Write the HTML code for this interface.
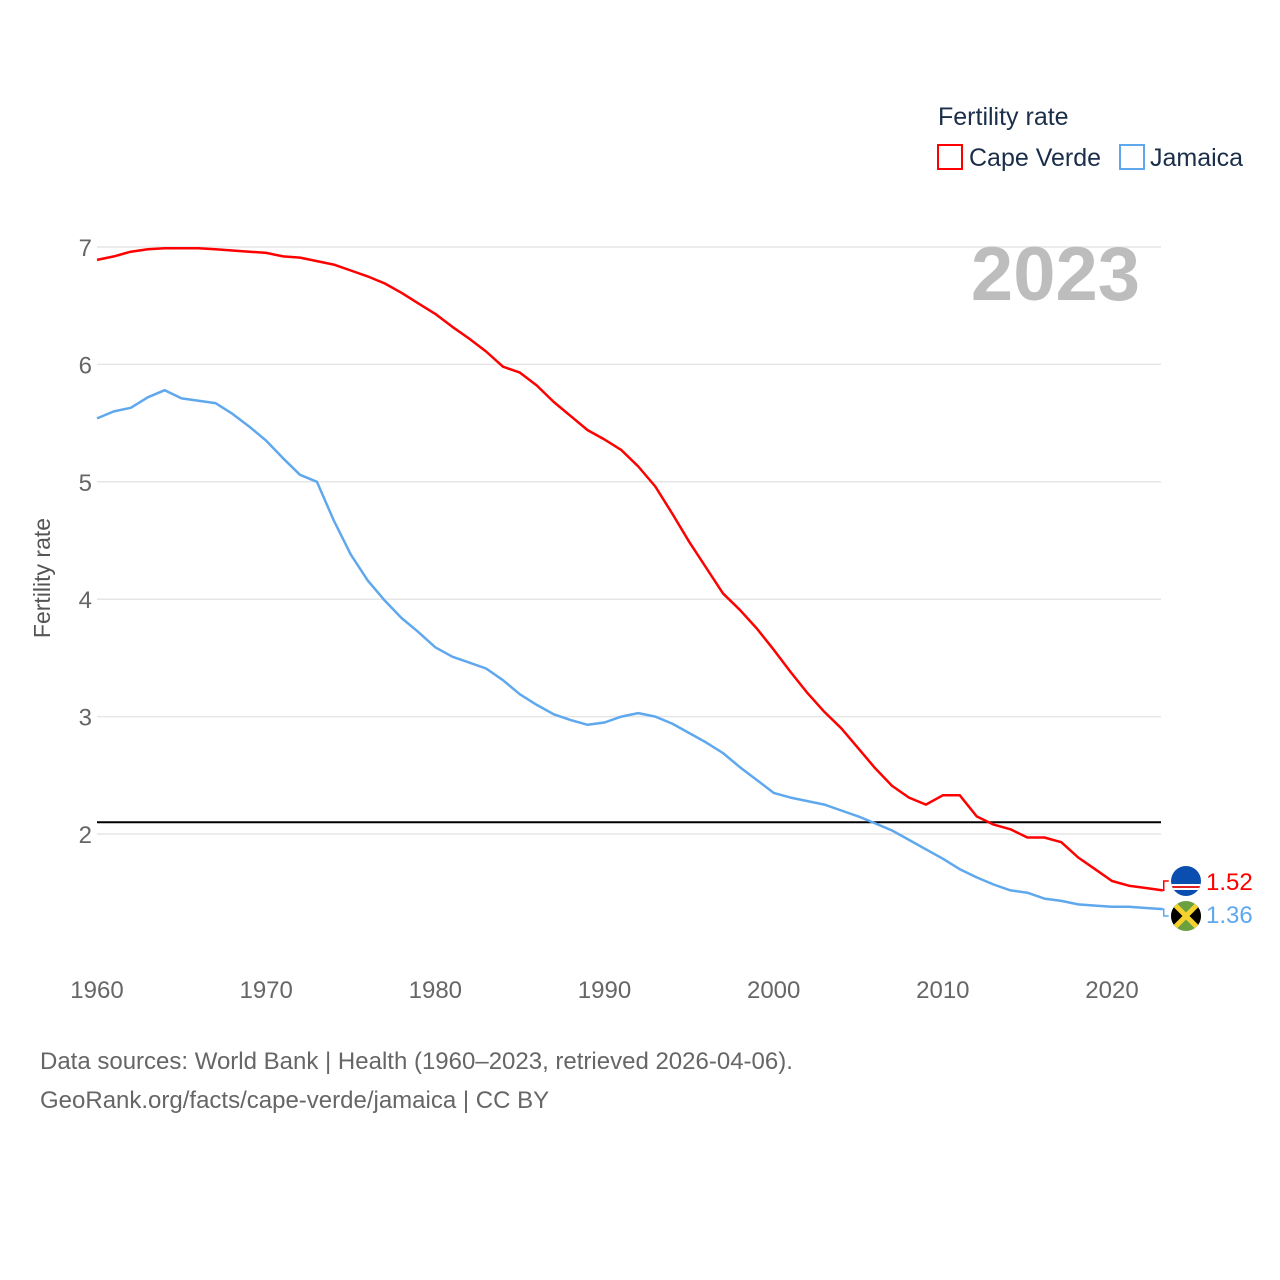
<!DOCTYPE html>
<html><head><meta charset="utf-8"><style>
html,body{margin:0;padding:0;background:#fff;width:1280px;height:1280px;overflow:hidden}
svg{display:block}
text{font-family:"Liberation Sans",sans-serif}
</style></head><body>
<svg id="chart" width="1280" height="1280" viewBox="0 0 1280 1280">
<g id="grid"></g>
<g id="yticks"></g>
<g id="xticks"></g>
<text x="50" y="578" transform="rotate(-90 50 578)" text-anchor="middle" font-size="23" fill="#555">Fertility rate</text>
<text x="1140" y="300" text-anchor="end" font-size="76" font-weight="bold" fill="#bdbdbd">2023</text>
<g id="series"></g>
<g>
<text x="938" y="125" font-size="25" fill="#1a2e4a">Fertility rate</text>
<g>
<rect x="938" y="145" width="24" height="24" fill="none" stroke="#ff0000" stroke-width="2"/>
<text x="969" y="166" font-size="25" fill="#1a2e4a">Cape Verde</text></g>
<g>
<rect x="1120" y="145" width="24" height="24" fill="none" stroke="#5fa8ee" stroke-width="2"/>
<text x="1150" y="166" font-size="25" fill="#1a2e4a">Jamaica</text></g>
</g>
<g>
<g>
<clipPath id="c1"><circle cx="1186" cy="881" r="15"/></clipPath>
<g clip-path="url(#c1)"><rect x="1170" y="865" width="32" height="32" fill="#0a4fb0"/><rect x="1170" y="884" width="32" height="6" fill="#fff"/><rect x="1170" y="886" width="32" height="2" fill="#e02020"/></g></g>
<text x="1206" y="890" font-size="24" fill="#ff0000">1.52</text>
<g>
<clipPath id="c2"><circle cx="1186" cy="916" r="15"/></clipPath>
<g clip-path="url(#c2)"><rect x="1170" y="900" width="32" height="32" fill="#6aa040"/><polygon points="1170,900 1186,916 1170,932" fill="#000"/><polygon points="1202,900 1186,916 1202,932" fill="#000"/><line x1="1170" y1="900" x2="1202" y2="932" stroke="#f5d130" stroke-width="5"/><line x1="1202" y1="900" x2="1170" y2="932" stroke="#f5d130" stroke-width="5"/></g></g>
<text x="1206" y="923" font-size="24" fill="#5fa8ee">1.36</text>
</g>
<text x="40" y="1069" font-size="24" fill="#666">Data sources: World Bank | Health (1960–2023, retrieved 2026-04-06).</text>
<text x="40" y="1108" font-size="24" fill="#666">GeoRank.org/facts/cape-verde/jamaica | CC BY</text>
</svg>
<script>
const years = [];
for (let y = 1960; y <= 2023; y++) years.push(y);
const capeVerde = [6.89,6.92,6.96,6.98,6.99,6.99,6.99,6.98,6.97,6.96,6.95,6.92,6.91,6.88,6.85,6.80,6.75,6.69,6.61,6.52,6.43,6.32,6.22,6.11,5.98,5.93,5.82,5.68,5.56,5.44,5.36,5.27,5.13,4.96,4.73,4.49,4.27,4.05,3.91,3.75,3.57,3.38,3.20,3.04,2.90,2.73,2.56,2.41,2.31,2.25,2.33,2.33,2.15,2.08,2.04,1.97,1.97,1.93,1.80,1.70,1.60,1.56,1.54,1.52];
const jamaica = [5.54,5.60,5.63,5.72,5.78,5.71,5.69,5.67,5.58,5.47,5.35,5.20,5.06,5.00,4.67,4.38,4.16,3.99,3.84,3.72,3.59,3.51,3.46,3.41,3.31,3.19,3.10,3.02,2.97,2.93,2.95,3.00,3.03,3.00,2.94,2.86,2.78,2.69,2.57,2.46,2.35,2.31,2.28,2.25,2.20,2.15,2.09,2.03,1.95,1.87,1.79,1.70,1.63,1.57,1.52,1.50,1.45,1.43,1.40,1.39,1.38,1.38,1.37,1.36];
const yTicks = [2,3,4,5,6,7];
const xTicks = [1960,1970,1980,1990,2000,2010,2020];
const replacementRate = [2.1];

const NS = "http://www.w3.org/2000/svg";
const X = yr => 97 + (yr - 1960) * (1015 / 60);
const Y = v => 834 - (v - 2) * 117.4;
function mk(tag, attrs, parent) {
  const e = document.createElementNS(NS, tag);
  for (const k in attrs) e.setAttribute(k, attrs[k]);
  parent.appendChild(e);
  return e;
}
const grid = document.getElementById('grid');
const yt = document.getElementById('yticks');
const xt = document.getElementById('xticks');
const series = document.getElementById('series');
yTicks.forEach(t => {
  const l = mk('line', {x1: 97, x2: 1161, y1: Y(t), y2: Y(t), stroke: '#e6e6e6', 'stroke-width': 1.5}, grid);
  
  
  const tx = mk('text', {x: 92, y: Y(t) + 9, 'text-anchor': 'end', 'font-size': 24, fill: '#666'}, yt);
  tx.textContent = t;
  
  
});
xTicks.forEach(t => {
  const tx = mk('text', {x: X(t), y: 998, 'text-anchor': 'middle', 'font-size': 24, fill: '#666'}, xt);
  tx.textContent = t;
  
  
});
replacementRate.forEach(r => {
  const l = mk('line', {x1: 97, x2: 1161, y1: Y(r), y2: Y(r), stroke: '#000', 'stroke-width': 2}, series);
  
  
});
function drawLine(vals, color, name, labelY) {
  let d = vals.map((v, i) => (i ? 'L' : 'M') + X(years[i]).toFixed(1) + ',' + Y(v).toFixed(1)).join(' ');
  const lastX = X(years[years.length - 1]), lastY = Y(vals[vals.length - 1]);
  const p = mk('path', {d: d, fill: 'none', stroke: color, 'stroke-width': 2.5, 'stroke-linejoin': 'round'}, series);
  
  
  const c = mk('path', {d: 'M' + lastX + ',' + lastY + ' L' + (lastX + 1) + ',' + lastY + ' L' + (lastX + 1) + ',' + labelY + ' L' + (lastX + 6) + ',' + labelY, fill: 'none', stroke: color, 'stroke-width': 1.5}, series);
  
  
}
drawLine(capeVerde, '#ff0000', 'cape-verde-line', 881);
drawLine(jamaica, '#5fa8ee', 'jamaica-line', 916);
</script>
</body></html>
